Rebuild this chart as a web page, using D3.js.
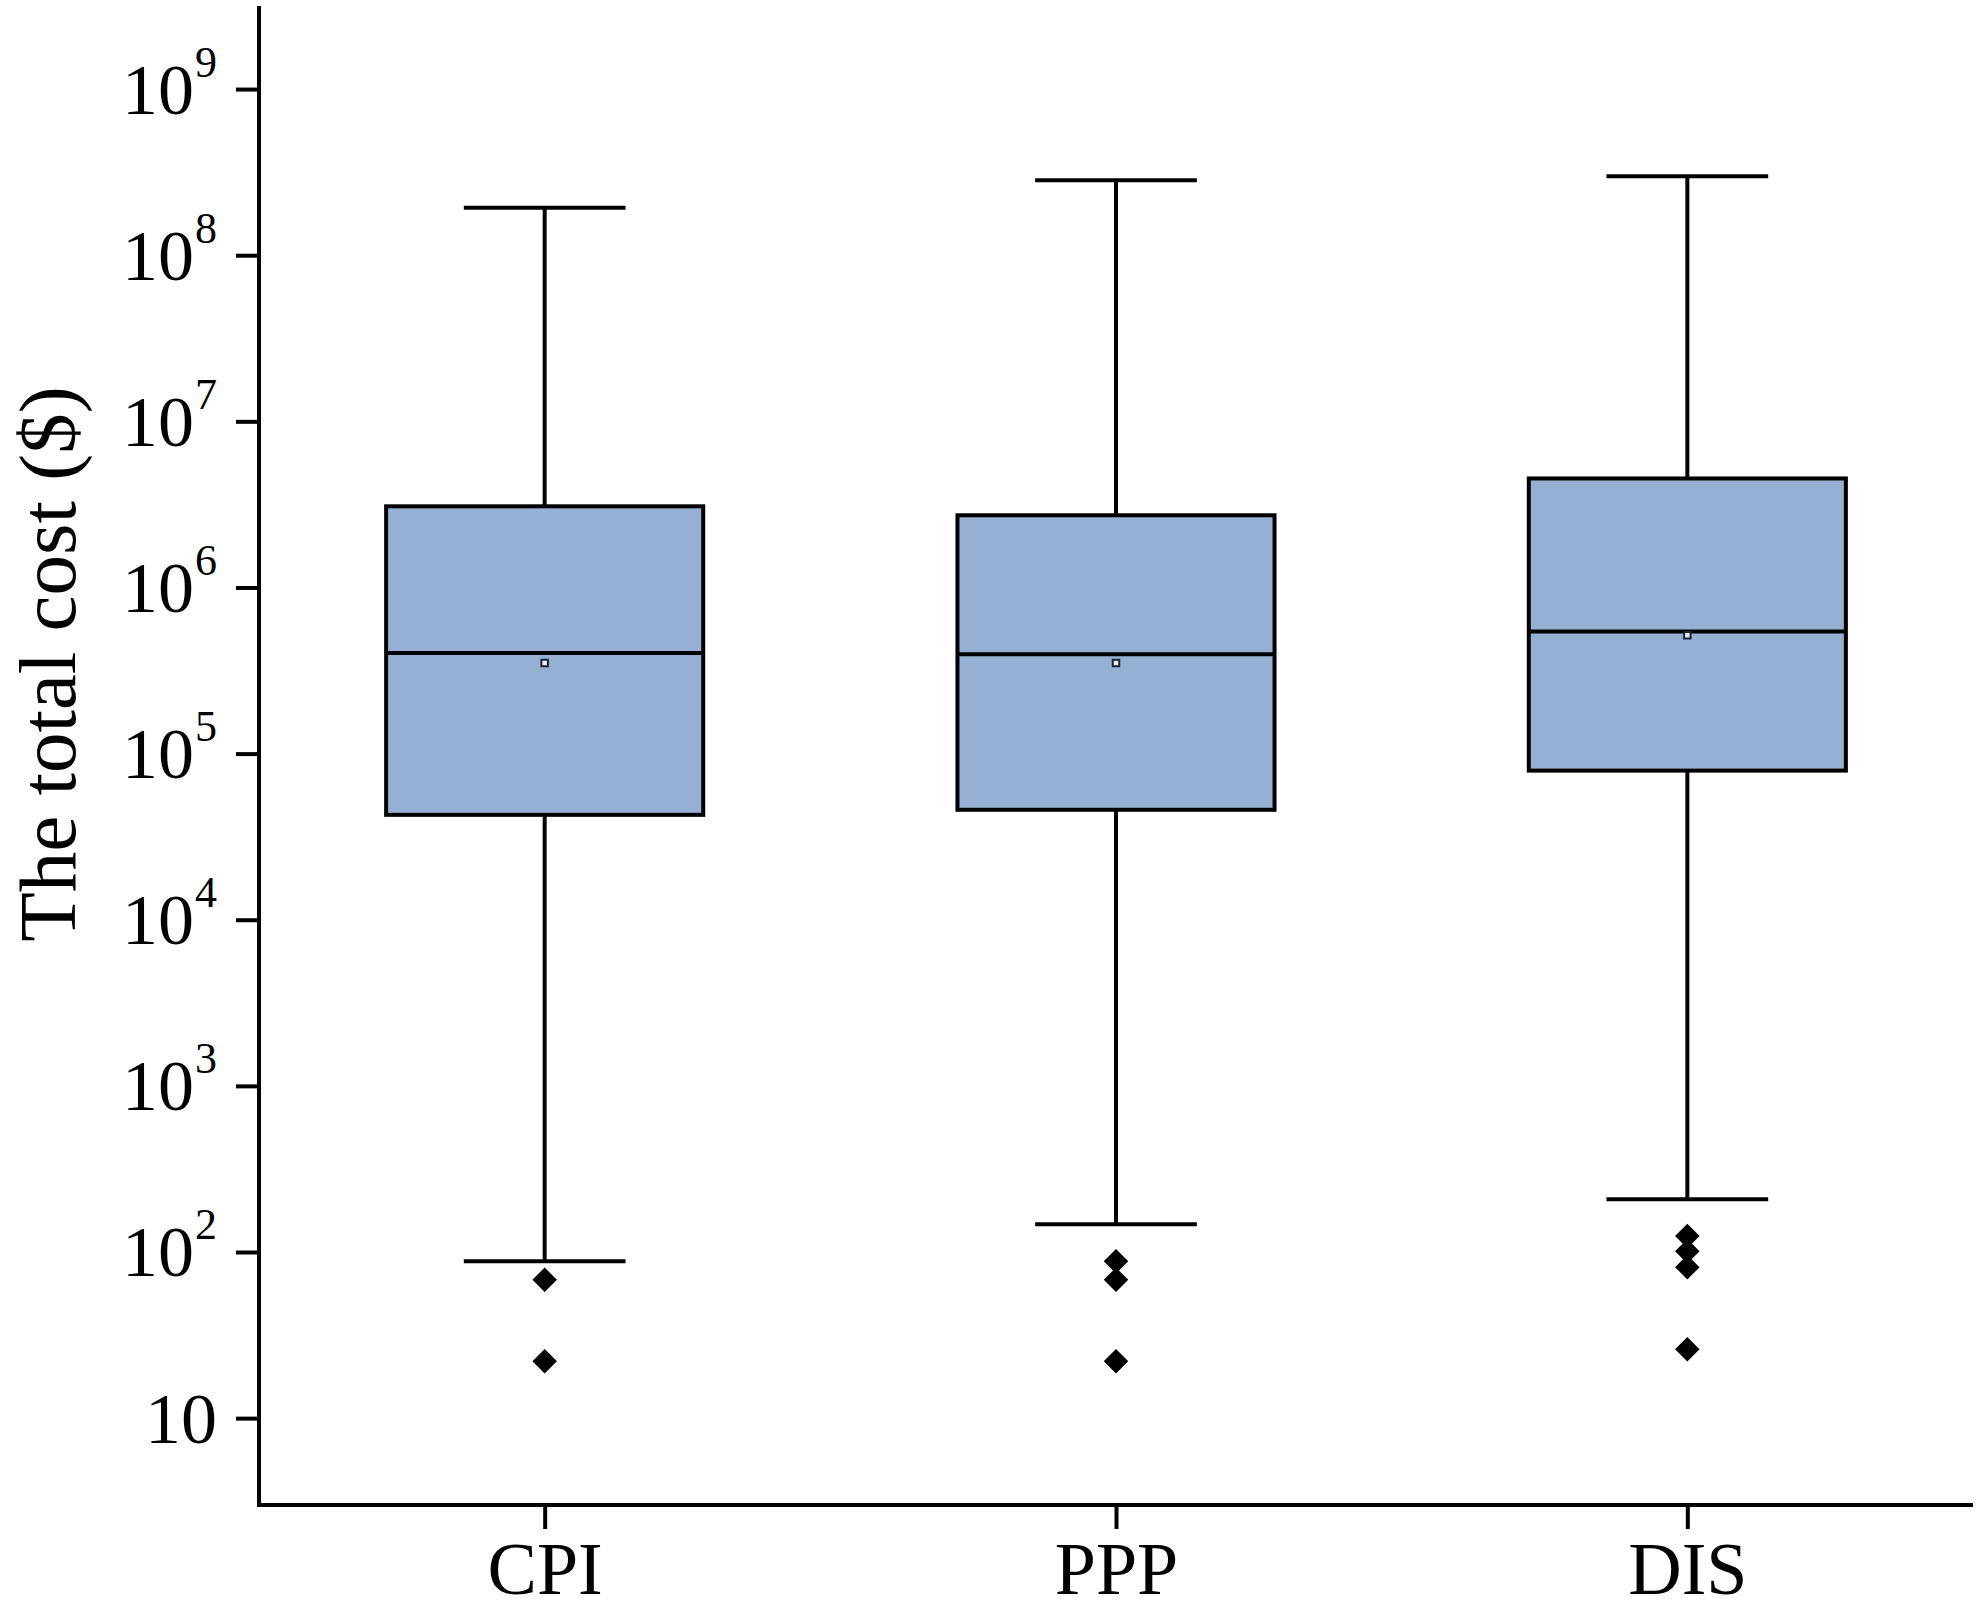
<!DOCTYPE html>
<html>
<head>
<meta charset="utf-8">
<script src="https://cdn.jsdelivr.net/npm/d3@7"></script>
<style>
  html, body { margin: 0; padding: 0; background: #fff; }
  svg { display: block; }
</style>
</head>
<body>
<script>
// ---- data ----
const categories = ["CPI", "PPP", "DIS"];
const whiskerHigh = [1.93e8, 2.83e8, 2.99e8];
const q3Values = [3.08e6, 2.72e6, 4.53e6];
const medianValues = [4.03e5, 3.96e5, 5.43e5];
const meanValues = [3.51e5, 3.51e5, 5.15e5];
const q1Values = [4.28e4, 4.59e4, 7.9e4];
const whiskerLow = [88, 147, 208];
const outlierValues = [[68, 22], [88, 68, 22], [125, 101, 81, 26]];
const tickExponents = [1, 2, 3, 4, 5, 6, 7, 8, 9];
const yTitle = "The total cost ($)";

// ---- layout ----
const W = 1983, H = 1610;
const axisX = 259, axisBottom = 1505, axisTop = 6, axisRight = 1973;
const serif = "Liberation Serif, Times New Roman, serif";
const boxFill = "#96b0d3";
const lw = 4;

const svg = d3.select("body").append("svg")
  .attr("width", W).attr("height", H);

const y = d3.scaleLog().domain([3, Math.pow(10, 9.5)]).range([axisBottom, axisTop]);
const x = d3.scalePoint().domain(categories).range([axisX, axisRight]).padding(0.5);
const step = x.step();
const boxW = step * 0.555;
const capW = boxW * 0.51;

const rows = categories.map((c, i) => ({
  c, hi: whiskerHigh[i], q3: q3Values[i], med: medianValues[i], mean: meanValues[i],
  q1: q1Values[i], lo: whiskerLow[i], out: outlierValues[i]
}));

const g = svg.append("g");
const bx = g.selectAll("g.box").data(rows).join("g").attr("class", "box");

// whisker lines
bx.append("line")
  .attr("x1", d => x(d.c)).attr("x2", d => x(d.c))
  .attr("y1", d => y(d.hi)).attr("y2", d => y(d.q3))
  .attr("stroke", "#000").attr("stroke-width", lw);
bx.append("line")
  .attr("x1", d => x(d.c)).attr("x2", d => x(d.c))
  .attr("y1", d => y(d.q1)).attr("y2", d => y(d.lo))
  .attr("stroke", "#000").attr("stroke-width", lw);
// caps
bx.append("line")
  .attr("x1", d => x(d.c) - capW / 2).attr("x2", d => x(d.c) + capW / 2)
  .attr("y1", d => y(d.hi)).attr("y2", d => y(d.hi))
  .attr("stroke", "#000").attr("stroke-width", lw);
bx.append("line")
  .attr("x1", d => x(d.c) - capW / 2).attr("x2", d => x(d.c) + capW / 2)
  .attr("y1", d => y(d.lo)).attr("y2", d => y(d.lo))
  .attr("stroke", "#000").attr("stroke-width", lw);
// box
bx.append("rect")
  .attr("x", d => x(d.c) - boxW / 2).attr("width", boxW)
  .attr("y", d => y(d.q3)).attr("height", d => y(d.q1) - y(d.q3))
  .attr("fill", boxFill).attr("stroke", "#000").attr("stroke-width", lw);
// median
bx.append("line")
  .attr("x1", d => x(d.c) - boxW / 2).attr("x2", d => x(d.c) + boxW / 2)
  .attr("y1", d => y(d.med)).attr("y2", d => y(d.med))
  .attr("stroke", "#000").attr("stroke-width", lw);
// mean
bx.append("path")
  .attr("d", d3.symbol(d3.symbolSquare, 42)())
  .attr("transform", d => `translate(${x(d.c)},${y(d.mean)})`)
  .attr("fill", "#eef2f8").attr("stroke", "#1a2233").attr("stroke-width", 2);
// outliers
bx.each(function (d) {
  d3.select(this).selectAll("path.out").data(d.out).join("path")
    .attr("class", "out")
    .attr("d", d3.symbol(d3.symbolSquare, 300)())
    .attr("transform", v => `translate(${x(d.c)},${y(v)}) rotate(45)`)
    .attr("fill", "#000");
});

// y axis
const yAxis = svg.append("g")
  .attr("transform", `translate(${axisX},0)`)
  .call(d3.axisLeft(y)
    .tickValues(tickExponents.map(e => Math.pow(10, e)))
    .tickSize(23).tickSizeOuter(0).tickPadding(0)
    .tickFormat(""));
yAxis.select(".domain").attr("stroke-width", lw).attr("d", `M0,${axisTop}V${axisBottom + lw / 2}`);
yAxis.selectAll(".tick line").attr("stroke-width", lw);
yAxis.selectAll(".tick text").each(function (v) {
  const e = Math.round(Math.log10(v));
  const t = d3.select(this)
    .attr("x", -42).attr("dy", null).attr("y", 24)
    .attr("font-family", serif).attr("font-size", 72).attr("fill", "#000")
    .attr("text-anchor", "end");
  t.text(null);
  t.append("tspan").text("10");
  if (e !== 1) {
    t.append("tspan").attr("font-size", 44).attr("dy", -37).attr("dx", 1).text(String(e));
  }
});

// x axis
const xAxis = svg.append("g")
  .attr("transform", `translate(0,${axisBottom})`)
  .call(d3.axisBottom(x).tickSize(24).tickSizeOuter(0).tickPadding(0));
xAxis.select(".domain").attr("stroke-width", lw).attr("d", `M${axisX - lw / 2},0H${axisRight}`);
xAxis.selectAll(".tick line").attr("stroke-width", lw);
xAxis.selectAll(".tick text")
  .attr("y", 89).attr("dy", null)
  .attr("font-family", serif).attr("font-size", 74).attr("fill", "#000");

// y title
svg.append("text")
  .attr("transform", "translate(75,664) rotate(-90)")
  .attr("text-anchor", "middle")
  .attr("font-family", serif).attr("font-size", 81).attr("fill", "#000")
  .text(yTitle);
</script>
</body>
</html>
